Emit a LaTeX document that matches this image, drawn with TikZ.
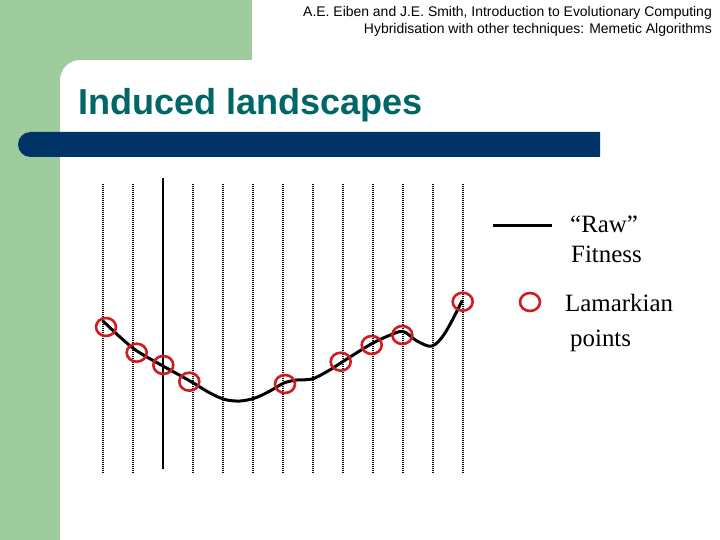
\documentclass[tikz,border=0pt]{standalone}
\usepackage{fontspec}
\setmainfont{Liberation Serif}
\setsansfont{Liberation Sans}
\usepackage{tikz}
\usetikzlibrary{shapes.geometric}
\definecolor{slgreen}{RGB}{158,204,158}
\definecolor{slblue}{RGB}{0,51,102}
\definecolor{sltitle}{RGB}{0,102,102}
\definecolor{slred}{RGB}{208,28,32}
\tikzset{
  hdr/.style={anchor=base east, inner sep=0pt, font=\fontsize{14}{16}\sffamily},
  ttl/.style={anchor=base west, inner sep=0pt, font=\fontsize{36.2}{40}\sffamily\bfseries, text=sltitle},
  lgd/.style={anchor=base west, inner sep=0pt, font=\fontsize{25}{28}\rmfamily},
  vline/.style={line width=2.8bp, dash pattern=on 1.4bp off 0.6bp},
  rawfit/.style={line width=3bp, line cap=round, line join=round},
  lamark/.style={ellipse, draw=slred, line width=2.6bp, minimum width=20bp,
    minimum height=18bp, inner sep=0pt}
}
\begin{document}
\begin{tikzpicture}[x=1bp, y=-1bp]
  \useasboundingbox (0,0) rectangle (720,540);
  % slide frame
  \fill[slgreen] (0,0) rectangle (720,540);
  \fill[white] (252,0) rectangle (720,60);
  \fill[white] (60,60) rectangle (720,540);
  \fill[slgreen] (60,60) -- (80,60) arc[start angle=-90, end angle=-180, radius=20] -- cycle;
  \fill[slblue] (600,132) -- (30.5,132) arc[start angle=-90, end angle=-270, radius=12.5] -- (600,157) -- cycle;
  % header and title
  \node[hdr] (hd1) at (712,16.8) {A.E. Eiben and J.E. Smith, Introduction to Evolutionary Computing};
  \node[hdr] (hd2) at (712,33.5) {Hybridisation with other techniques: Memetic Algorithms};
  \node[ttl] (title) at (78,115) {Induced landscapes};
  % sampling lines
  \foreach \i in {0,1,3,4,5,6,7,8,9,10,11,12}
    \draw[vline] ({103+30*\i},184) -- ({103+30*\i},474);
  \draw[line width=2.5bp] (163,178) -- (163,469);
  % raw fitness curve
  \draw[rawfit] plot[smooth, tension=0.55] coordinates {
    (103,321) (120,337) (137,351) (163,366) (190,381) (210,393) (225,399.5)
    (240,401) (255,398) (270,391) (284,383) (297,380) (312,379) (328,371)
    (343,361.5) (358,352) (373,343) (388,336) (403,331.5) (417,341)
    (432,346) (445,333) (462,301)};
  % lamarkian points
  \foreach \x/\y [count=\k] in {106/327, 136.7/352.7, 163.3/365, 189.3/381.7,
      285/384, 340.7/361.7, 371.7/345, 402.3/335, 462.7/301.7}
    \node[lamark] (p\k) at (\x,\y) {};
  % legend
  \coordinate (rawA) at (493,226);
  \coordinate (rawB) at (552,226);
  \draw[rawfit, line cap=butt] (rawA) -- (rawB);
  \node[lgd] (rawtx) at (570,233) {“Raw”};
  \node[lgd] (fittx) at (571,263) {Fitness};
  \node[lamark] (lamkey) at (530,302) {};
  \node[lgd] (lamtx) at (565,311.5) {Lamarkian};
  \node[lgd] (pnttx) at (570,346) {points};
\end{tikzpicture}
\end{document}
